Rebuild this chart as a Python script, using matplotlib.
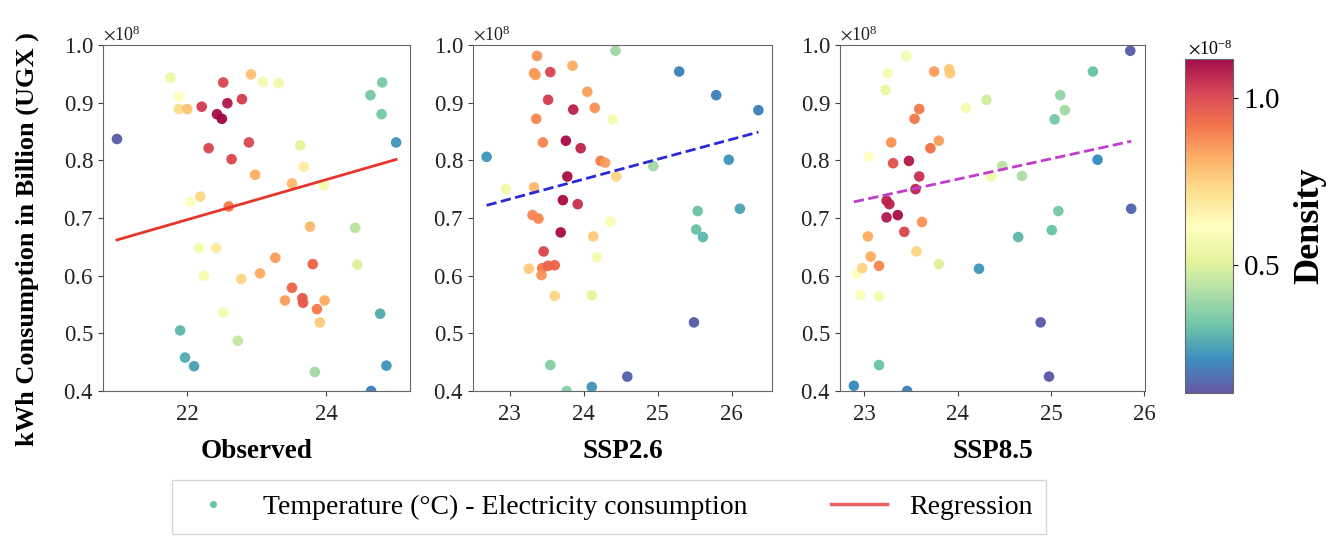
import numpy as np
import matplotlib
matplotlib.use("Agg")
import matplotlib.pyplot as plt
from matplotlib.colors import Normalize
from matplotlib.lines import Line2D
from matplotlib.ticker import MultipleLocator, ScalarFormatter

plt.rcParams["font.family"] = ["Liberation Serif", "DejaVu Serif"]
plt.rcParams["mathtext.fontset"] = "stix"

# temperature (deg C), consumption (x1e8), density (x1e-8)
obs_t = [20.99, 21.76, 21.88, 21.88, 22.00, 22.21, 22.43, 22.50, 22.52, 22.58,
         22.79, 22.92, 23.09, 23.32, 22.31, 22.64, 22.89, 22.98, 22.19, 22.05,
         22.60, 23.51, 23.68, 23.63, 23.97, 24.42, 24.45, 24.64, 24.81, 24.80,
         25.01, 23.77, 23.81, 23.27, 23.05, 22.78, 22.42, 22.17, 22.24, 23.51,
         23.41, 23.66, 23.67, 23.87, 23.98, 23.91, 22.52, 22.73, 21.90, 21.97,
         22.10, 23.84, 24.78, 24.87, 24.65]
obs_c = [0.837, 0.943, 0.910, 0.889, 0.889, 0.893, 0.880, 0.872, 0.935, 0.899,
         0.906, 0.949, 0.936, 0.934, 0.821, 0.802, 0.831, 0.775, 0.737, 0.728,
         0.720, 0.760, 0.789, 0.826, 0.757, 0.683, 0.619, 0.913, 0.935, 0.880,
         0.831, 0.685, 0.620, 0.631, 0.604, 0.594, 0.648, 0.648, 0.600, 0.579,
         0.557, 0.561, 0.553, 0.542, 0.557, 0.519, 0.536, 0.487, 0.505, 0.458,
         0.443, 0.433, 0.534, 0.444, 0.400]
obs_d = [0.14, 0.55, 0.62, 0.72, 0.78, 1.02, 1.10, 1.11, 1.00, 1.08,
         1.02, 0.78, 0.58, 0.56, 1.00, 1.00, 1.00, 0.82, 0.74, 0.62,
         0.90, 0.80, 0.68, 0.52, 0.58, 0.44, 0.50, 0.34, 0.34, 0.34,
         0.24, 0.80, 0.94, 0.84, 0.82, 0.74, 0.68, 0.58, 0.58, 0.94,
         0.84, 0.96, 0.96, 0.90, 0.82, 0.76, 0.58, 0.46, 0.30, 0.28,
         0.26, 0.40, 0.28, 0.24, 0.20]

ssp26_t = [22.69, 22.95, 23.37, 23.33, 23.35, 23.55, 23.85, 23.52, 23.36, 23.45,
           23.76, 23.96, 23.86, 24.05, 24.15, 24.39, 24.43, 23.78, 23.72, 23.92,
           23.33, 23.31, 23.39, 24.23, 24.29, 24.44, 24.94, 23.69, 23.46, 23.26,
           23.44, 23.43, 23.52, 23.61, 23.61, 24.13, 24.36, 24.18, 24.11, 23.55,
           23.77, 24.11, 24.59, 25.49, 25.29, 25.79, 26.36, 25.96, 26.11, 25.54,
           25.52, 25.61]
ssp26_c = [0.806, 0.750, 0.981, 0.951, 0.948, 0.953, 0.964, 0.905, 0.872, 0.831,
           0.834, 0.821, 0.888, 0.919, 0.891, 0.871, 0.990, 0.772, 0.731, 0.724,
           0.753, 0.705, 0.699, 0.799, 0.796, 0.772, 0.790, 0.675, 0.642, 0.612,
           0.613, 0.601, 0.617, 0.618, 0.565, 0.668, 0.694, 0.632, 0.566, 0.445,
           0.400, 0.407, 0.425, 0.519, 0.954, 0.913, 0.887, 0.801, 0.716, 0.712,
           0.680, 0.667]
ssp26_d = [0.24, 0.56, 0.86, 0.86, 0.84, 1.00, 0.82, 1.02, 0.88, 0.88,
           1.10, 1.06, 1.06, 0.84, 0.86, 0.58, 0.40, 1.10, 1.10, 1.04,
           0.80, 0.88, 0.88, 0.90, 0.84, 0.74, 0.40, 1.10, 1.00, 0.76,
           0.90, 0.86, 0.94, 0.94, 0.74, 0.76, 0.60, 0.58, 0.52, 0.36,
           0.36, 0.24, 0.15, 0.14, 0.20, 0.20, 0.20, 0.24, 0.26, 0.32,
           0.32, 0.30]

ssp85_t = [22.89, 23.46, 23.16, 22.92, 22.98, 22.96, 23.16, 23.07, 23.16, 23.04,
           23.05, 23.29, 23.31, 23.48, 23.24, 23.27, 23.24, 23.36, 23.43, 23.55,
           23.59, 23.62, 23.56, 23.54, 23.59, 23.71, 23.80, 23.75, 23.91, 23.92,
           23.45, 23.25, 23.23, 24.09, 24.31, 23.80, 24.36, 24.48, 24.69, 24.23,
           24.65, 25.01, 25.08, 25.04, 25.10, 25.15, 25.45, 25.50, 24.89, 24.98,
           25.85, 25.86]
ssp85_c = [0.409, 0.400, 0.445, 0.603, 0.613, 0.566, 0.564, 0.633, 0.617, 0.668,
           0.806, 0.831, 0.795, 0.799, 0.730, 0.724, 0.701, 0.705, 0.676, 0.750,
           0.772, 0.693, 0.642, 0.872, 0.889, 0.821, 0.834, 0.954, 0.958, 0.951,
           0.981, 0.951, 0.922, 0.891, 0.905, 0.620, 0.772, 0.790, 0.773, 0.612,
           0.667, 0.679, 0.712, 0.871, 0.913, 0.887, 0.954, 0.801, 0.519, 0.425,
           0.990, 0.716]
ssp85_d = [0.22, 0.20, 0.32, 0.62, 0.74, 0.60, 0.58, 0.82, 0.88, 0.82,
           0.62, 0.86, 0.98, 1.08, 1.06, 1.06, 1.08, 1.10, 1.00, 1.06,
           1.04, 0.86, 0.74, 0.90, 0.90, 0.92, 0.84, 0.84, 0.76, 0.76,
           0.58, 0.58, 0.54, 0.58, 0.48, 0.50, 0.56, 0.44, 0.42, 0.24,
           0.30, 0.32, 0.34, 0.34, 0.38, 0.40, 0.32, 0.22, 0.14, 0.13,
           0.14, 0.15]

# regression fits: (slope, intercept) in x1e8 units
reg_obs = (0.0347, -0.0664)
reg_ssp26 = (0.0346, -0.0631)
reg_ssp85 = (0.0354, -0.0824)

panels = [
    ("Observed", obs_t, obs_c, obs_d, reg_obs, "#e8352c", "-"),
    ("SSP2.6", ssp26_t, ssp26_c, ssp26_d, reg_ssp26, "#2a2ad8", "--"),
    ("SSP8.5", ssp85_t, ssp85_c, ssp85_d, reg_ssp85, "#c23ccf", "--"),
]

fig = plt.figure(figsize=(13.31, 5.42), dpi=100)
boxes = [[0.0774, 0.2786, 0.2307, 0.6384],
         [0.3554, 0.2786, 0.2246, 0.6384],
         [0.6311, 0.2786, 0.2292, 0.6384]]
norm = Normalize(vmin=0.117e-8, vmax=1.117e-8)

for box, (name, t, c, d, reg, col, ls) in zip(boxes, panels):
    ax = fig.add_axes(box)
    t = np.array(t)
    c = np.array(c) * 1e8
    d = np.array(d) * 1e-8
    sc = ax.scatter(t, c, c=d, cmap="Spectral_r", norm=norm, s=58,
                    edgecolors="none", alpha=0.95, zorder=2)
    xs = np.array([t.min(), t.max()])
    ax.plot(xs, (reg[0] * xs + reg[1]) * 1e8, color=col, ls=ls, lw=2, zorder=3)
    ax.set_ylim(0.4e8, 1.0e8)
    if name != "Observed":
        ax.xaxis.set_major_locator(MultipleLocator(1))
    fmt = ScalarFormatter(useMathText=True)
    ax.yaxis.set_major_formatter(fmt)
    ax.set_xlabel(name, fontsize=19.5, fontweight="bold", labelpad=10)
    ax.tick_params(labelsize=16.5, colors="#444444", labelcolor="#222222")
    ax.tick_params(axis="x", pad=6)
    ax.yaxis.get_offset_text().set_fontsize(13)
    for sp in ax.spines.values():
        sp.set_color("#666666")
    if name == "Observed":
        ax.set_ylabel("kWh Consumption in Billion (UGX )", fontsize=19,
                      fontweight="bold")
        ax.yaxis.set_label_coords(-0.21, 0.44)

cax = fig.add_axes([0.8903, 0.2749, 0.036, 0.6162])
cb = fig.colorbar(sc, cax=cax)
cb.formatter = ScalarFormatter(useMathText=True)
cb.set_ticks([0.5e-8, 1.0e-8])
cb.update_ticks()
cb.ax.tick_params(labelsize=21)
cb.ax.yaxis.get_offset_text().set_fontsize(13)
cb.set_label("Density", fontsize=26, fontweight="bold", labelpad=10)
cb.outline.set_edgecolor("#666666")

handles = [
    Line2D([], [], marker="o", ls="none", color="#66c2a5", markersize=4),
    Line2D([], [], color="#e86464", lw=2.5),
]
fig.legend(handles, ["Temperature (°C) - Electricity consumption", "Regression"],
           loc="lower center", bbox_to_anchor=(0.4576, -0.01), ncol=2, fontsize=20,
           fancybox=False, edgecolor="#cccccc", columnspacing=3, handlelength=2,
           borderpad=0.5)

fig.savefig("out.png", dpi=100)
